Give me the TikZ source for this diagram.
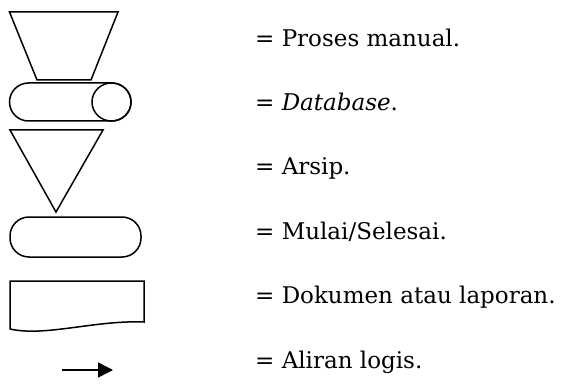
\documentclass[tikz,border=0pt]{standalone}
\usepackage{fontspec}
\setmainfont{DejaVu Serif}
\usepackage{tikz}
\usetikzlibrary{arrows.meta}

\begin{document}
\begin{tikzpicture}[
        x=1pt, y=-1pt,
        symbol/.style={draw, line width=1.5pt},
        legtext/.style={anchor=base west, inner sep=0pt, font=\fontsize{23}{28}\selectfont},
        arrow/.style={-{Triangle[length=15pt, width=15pt]}, line width=1.5pt}
    ]
    \useasboundingbox (0,0) rectangle (573,385);

    % symbols
    \draw [symbol] (9.5,12) -- (118,12) -- (91,80) -- (37,80) -- cycle;
    \draw [symbol, rounded corners=19pt] (9.5,83) rectangle (131,121);
    \draw [symbol] (111.5,102) ellipse [x radius=19.5, y radius=19];
    \draw [symbol] (10,130) -- (103,130) -- (56,212) -- cycle;
    \draw [symbol, rounded corners=19pt] (10,217) rectangle (141,257);
    \draw [symbol] (10,329) -- (10,281) -- (144,281) -- (144,322)
        .. controls (95,320) and (45,337) .. (10,329) -- cycle;
    \coordinate (from) at (62,370);
    \coordinate (to) at (113,370);
    \draw [arrow] (from) -- (to);

    % legend texts
    \node (manual) [legtext] at (255,46.7) {= Proses manual.};
    \node (db) [legtext] at (255,110.7) {= \textit{Database}.};
    \node (arsip) [legtext] at (255,175) {= Arsip.};
    \node (mulai) [legtext] at (255,239.3) {= Mulai/Selesai.};
    \node (dok) [legtext] at (255,303.7) {= Dokumen atau laporan.};
    \node (aliran) [legtext] at (255,368) {= Aliran logis.};

\end{tikzpicture}
\end{document}
